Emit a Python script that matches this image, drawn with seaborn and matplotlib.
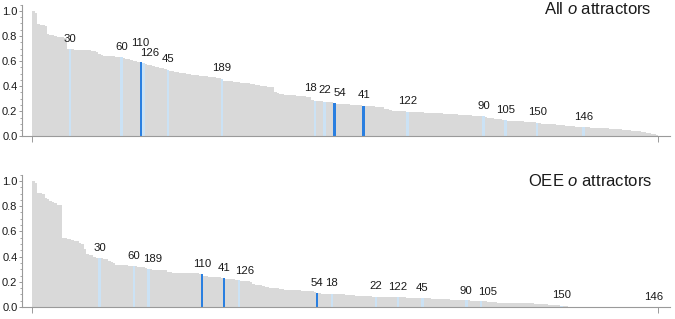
import pandas as pd
import matplotlib
matplotlib.use("Agg")
import matplotlib.pyplot as plt
import seaborn as sns
from matplotlib.ticker import MultipleLocator

# ============================================================================
# Data (bars sorted by value, 256 rules per panel)
# ============================================================================
all_values = [
    1.0, 0.985, 0.895, 0.89, 0.885, 0.88, 0.815, 0.81, 0.805, 0.80, 0.795, 0.79, 0.79, 0.788, 0.694, 0.694,
    0.693, 0.692, 0.692, 0.69, 0.69, 0.688, 0.687, 0.685, 0.684, 0.683, 0.672, 0.66, 0.645, 0.642, 0.64, 0.639,
    0.638, 0.637, 0.636, 0.635, 0.633, 0.628, 0.62, 0.614, 0.608, 0.604, 0.60, 0.595, 0.59, 0.585, 0.578, 0.57,
    0.565, 0.56, 0.556, 0.55, 0.546, 0.542, 0.538, 0.53, 0.522, 0.52, 0.516, 0.512, 0.508, 0.505, 0.502, 0.498,
    0.495, 0.492, 0.49, 0.487, 0.485, 0.482, 0.48, 0.478, 0.475, 0.472, 0.47, 0.467, 0.463, 0.458, 0.445, 0.443,
    0.44, 0.438, 0.436, 0.433, 0.43, 0.428, 0.426, 0.424, 0.422, 0.42, 0.418, 0.412, 0.408, 0.405, 0.402, 0.40,
    0.397, 0.394, 0.39, 0.352, 0.345, 0.34, 0.336, 0.332, 0.33, 0.329, 0.328, 0.327, 0.325, 0.323, 0.321, 0.319,
    0.317, 0.315, 0.286, 0.282, 0.28, 0.279, 0.278, 0.276, 0.274, 0.272, 0.27, 0.264, 0.26, 0.258, 0.257, 0.256,
    0.255, 0.254, 0.252, 0.251, 0.25, 0.249, 0.247, 0.245, 0.242, 0.24, 0.239, 0.238, 0.237, 0.236, 0.235, 0.234,
    0.22, 0.215, 0.212, 0.205, 0.203, 0.201, 0.20, 0.199, 0.198, 0.197, 0.195, 0.194, 0.193, 0.192, 0.191, 0.19,
    0.189, 0.188, 0.187, 0.186, 0.185, 0.184, 0.183, 0.182, 0.181, 0.18, 0.179, 0.178, 0.177, 0.176, 0.172, 0.171,
    0.17, 0.169, 0.168, 0.167, 0.166, 0.165, 0.164, 0.163, 0.162, 0.155, 0.15, 0.147, 0.145, 0.142, 0.14, 0.137,
    0.134, 0.13, 0.126, 0.125, 0.124, 0.123, 0.122, 0.121, 0.12, 0.118, 0.116, 0.114, 0.112, 0.111, 0.109, 0.105,
    0.102, 0.10, 0.098, 0.097, 0.096, 0.095, 0.094, 0.092, 0.09, 0.088, 0.086, 0.084, 0.082, 0.08, 0.078, 0.077,
    0.076, 0.074, 0.072, 0.071, 0.07, 0.069, 0.068, 0.067, 0.066, 0.065, 0.064, 0.063, 0.062, 0.06, 0.058, 0.056,
    0.055, 0.054, 0.052, 0.05, 0.048, 0.046, 0.044, 0.042, 0.039, 0.036, 0.032, 0.028, 0.024, 0.02, 0.015, 0.01,
]

oee_values = [
    1.0, 0.987, 0.902, 0.902, 0.894, 0.865, 0.855, 0.839, 0.835, 0.823, 0.81, 0.807, 0.545, 0.545, 0.543, 0.54,
    0.53, 0.525, 0.52, 0.51, 0.497, 0.457, 0.42, 0.413, 0.41, 0.395, 0.392, 0.389, 0.385, 0.382, 0.378, 0.365,
    0.36, 0.352, 0.335, 0.332, 0.331, 0.33, 0.33, 0.329, 0.328, 0.325, 0.322, 0.32, 0.32, 0.318, 0.31, 0.304,
    0.30, 0.297, 0.295, 0.294, 0.293, 0.292, 0.29, 0.28, 0.275, 0.273, 0.272, 0.272, 0.271, 0.27, 0.27, 0.268,
    0.268, 0.267, 0.267, 0.266, 0.265, 0.262, 0.25, 0.245, 0.242, 0.24, 0.24, 0.238, 0.235, 0.232, 0.228, 0.226,
    0.224, 0.222, 0.22, 0.217, 0.214, 0.21, 0.209, 0.208, 0.205, 0.195, 0.185, 0.178, 0.175, 0.172, 0.168, 0.16,
    0.155, 0.153, 0.152, 0.15, 0.148, 0.145, 0.142, 0.138, 0.136, 0.135, 0.134, 0.133, 0.132, 0.131, 0.13, 0.128,
    0.127, 0.126, 0.125, 0.12, 0.111, 0.108, 0.106, 0.105, 0.104, 0.104, 0.103, 0.102, 0.102, 0.101, 0.10, 0.10,
    0.099, 0.098, 0.095, 0.092, 0.09, 0.088, 0.087, 0.087, 0.086, 0.085, 0.084, 0.083, 0.082, 0.082, 0.081, 0.081,
    0.08, 0.08, 0.08, 0.079, 0.079, 0.079, 0.078, 0.077, 0.076, 0.075, 0.075, 0.074, 0.073, 0.072, 0.072, 0.071,
    0.07, 0.069, 0.068, 0.067, 0.066, 0.065, 0.064, 0.063, 0.062, 0.061, 0.06, 0.059, 0.058, 0.057, 0.056, 0.055,
    0.054, 0.053, 0.052, 0.051, 0.05, 0.049, 0.049, 0.048, 0.046, 0.044, 0.042, 0.04, 0.038, 0.036, 0.035, 0.035,
    0.034, 0.034, 0.034, 0.033, 0.033, 0.032, 0.032, 0.031, 0.031, 0.03, 0.03, 0.03, 0.028, 0.026, 0.025, 0.024,
    0.022, 0.021, 0.02, 0.018, 0.017, 0.015, 0.014, 0.012, 0.01, 0.008, 0.006, 0.004, 0.003, 0.002, 0.002, 0.001,
    0.001, 0.001, 0.001, 0.001, 0.0, 0.0, 0.0, 0.0, 0.0, 0.0, 0.0, 0.0, 0.0, 0.0, 0.0, 0.0,
    0.0, 0.0, 0.0, 0.0, 0.0, 0.0, 0.0, 0.0, 0.0, 0.0, 0.0, 0.0, 0.0, 0.0, 0.0, 0.0,
]

# highlighted rules and their rank (bar index) in each panel
all_rules = [30, 60, 110, 126, 45, 189, 18, 22, 54, 41, 122, 90, 105, 150, 146]
all_ranks = [15, 36, 44, 45, 55, 77, 115, 119, 123, 135, 153, 184, 193, 206, 225]
oee_rules = [30, 60, 189, 110, 41, 126, 54, 18, 22, 122, 45, 90, 105, 150, 146]
oee_ranks = [27, 41, 47, 69, 78, 84, 116, 122, 140, 149, 159, 177, 183, 216, 255]
dark_rules = [110, 54, 41]

assert len(all_values) == 256 and len(oee_values) == 256

# ============================================================================
# Style
# ============================================================================
sns.set_style("ticks")
plt.rcParams['font.family'] = ['Liberation Sans', 'DejaVu Sans']
plt.rcParams['mathtext.fontset'] = 'custom'
plt.rcParams['mathtext.rm'] = 'Liberation Sans'
plt.rcParams['mathtext.it'] = 'Liberation Sans:italic'

palette = {'other': '#d9d9d9', 'light': '#cbe2f5', 'dark': '#2a7fe0'}
axis_col = '#9a9a9a'
text_col = '#1a1a1a'

# label nudges in points (dx, dy) where the reference moves a label off its bar
LABEL_DY = 7.5
all_nudge = {110: (-0.7, 14.1), 126: (4.3, 7.0), 18: (-2.9, 9.6), 22: (0, 8.2), 54: (4.1, 7.2)}
oee_nudge = {189: (3.3, 7.0), 126: (3.8, 6.7), 18: (0, 8.1), 90: (0, 6.5), 105: (4.5, 6.3),
             150: (0, 7.9), 146: (-2.2, 7.4)}


def build_frame(values, rules, ranks):
    kind = ['other'] * len(values)
    for r, k in zip(rules, ranks):
        kind[k] = 'dark' if r in dark_rules else 'light'
    return pd.DataFrame({'rank': range(len(values)), 'value': values, 'kind': kind})


def draw_panel(ax, values, rules, ranks, nudge, title, title_y):
    df = build_frame(values, rules, ranks)
    sns.barplot(data=df, x='rank', y='value', hue='kind', palette=palette, dodge=False,
                width=1.0, saturation=1, linewidth=0, legend=False, ax=ax)

    for r, k in zip(rules, ranks):
        dx, dy = nudge.get(r, (0, LABEL_DY))
        ax.annotate(str(r), xy=(k, values[k]), xytext=(dx, dy), textcoords='offset points',
                    ha='center', va='center', fontsize=8.2, color=text_col)

    ax.set_xlim(-4.6, 260.3)
    ax.set_ylim(0, 1.05)
    ax.set_xticks([-0.5, 255.5])
    ax.set_xticklabels([])
    ax.set_yticks([0, 0.2, 0.4, 0.6, 0.8, 1.0])
    ax.set_yticklabels(['0.0', '0.2', '0.4', '0.6', '0.8', '1.0'])
    ax.yaxis.set_minor_locator(MultipleLocator(0.05))
    ax.set_xlabel('')
    ax.set_ylabel('')

    for side in ['top', 'right']:
        ax.spines[side].set_visible(False)
    for side in ['left', 'bottom']:
        ax.spines[side].set_color(axis_col)
        ax.spines[side].set_linewidth(0.8)

    ax.tick_params(axis='y', which='major', direction='out', length=2.3, width=0.7,
                   color=axis_col, labelsize=8, labelcolor=text_col, pad=1.2)
    ax.tick_params(axis='y', which='minor', direction='out', length=1.2, width=0.6, color=axis_col)
    ax.tick_params(axis='x', which='major', direction='out', length=4.3, width=0.7, color=axis_col)
    ax.tick_params(axis='x', which='minor', length=0)

    fig.text(651.7 / 675, 1 - title_y / 319, title, ha='right', va='center',
             fontsize=12, color=text_col)


# ============================================================================
# Figure
# ============================================================================
fig = plt.figure(figsize=(6.75, 3.19), dpi=100)
ax1 = fig.add_axes([22.3 / 675, 0.5727, (670 - 22.3) / 675, 0.4126])
ax2 = fig.add_axes([22.3 / 675, 0.0376, (670 - 22.3) / 675, 0.4148])

draw_panel(ax1, all_values, all_rules, all_ranks, all_nudge, 'All $o$ attractors', 9.3)
draw_panel(ax2, oee_values, oee_rules, oee_ranks, oee_nudge, 'OEE $o$ attractors', 180.7)

fig.savefig('out.png', dpi=100)
plt.close()
